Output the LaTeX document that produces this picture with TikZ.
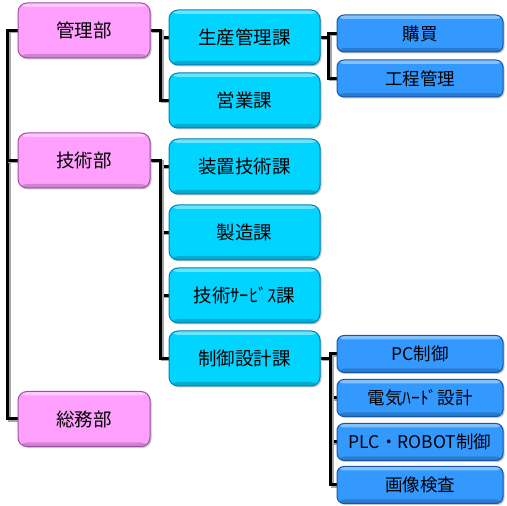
\documentclass[tikz,border=0pt]{standalone}
\usepackage{fontspec}
\setmainfont{Noto Sans CJK JP}
\usepackage{tikz}
\usetikzlibrary{shapes,arrows,backgrounds,shadows,positioning,calc}
\definecolor{bucol}{RGB}{255,160,255}
\definecolor{bulin}{RGB}{160,80,160}
\definecolor{kacol}{RGB}{0,212,255}
\definecolor{kalin}{RGB}{0,130,180}
\definecolor{grcol}{RGB}{51,153,255}
\definecolor{grlin}{RGB}{25,85,165}
\tikzset{
  box/.style={rounded corners=9bp, inner sep=0pt, line width=1bp, font=\fontsize{18.5bp}{20bp}\selectfont,
    drop shadow={shadow xshift=1.5bp, shadow yshift=-1.5bp, opacity=0.45},
    path picture={
      \fill[white, opacity=0.4] (path picture bounding box.north west) rectangle ([yshift=-4bp]path picture bounding box.north east);
      \fill[black, opacity=0.18] (path picture bounding box.south west) rectangle ([yshift=4bp]path picture bounding box.south east);
    }},
  bu/.style={box, fill=bucol, draw=bulin, minimum width=132bp, minimum height=55bp},
  ka/.style={box, fill=kacol, draw=kalin, minimum width=151bp, minimum height=55bp},
  gr/.style={box, rounded corners=7bp, fill=grcol, draw=grlin, minimum width=166bp, minimum height=37bp, font=\fontsize{17.5bp}{19bp}\selectfont},
  tree/.style={line width=3bp, line join=miter,
    preaction={draw=black!35, line width=3bp, transform canvas={shift={(1.5bp,-1.5bp)}}}}
}
\begin{document}
\begin{tikzpicture}[>=latex',line join=bevel,]
\useasboundingbox (0bp,0bp) rectangle (507bp,506bp);
% lines first, boxes on top
\node[bu] (kanri) at (84bp,475.5bp) {管理部};
\node[bu] (gijutsu) at (84bp,345.5bp) {技術部};
\node[bu] (somu) at (84bp,87bp) {総務部};
\node[ka] (seisan) at (244.5bp,468.5bp) {生産管理課};
\node[ka] (eigyo) at (244.5bp,405.5bp) {営業課};
\node[ka] (souchi) at (244.5bp,339.5bp) {装置技術課};
\node[ka] (seizo) at (244.5bp,273.5bp) {製造課};
\node[ka] (service) at (244.5bp,210.5bp) {技術ｻｰﾋﾞｽ課};
\node[ka] (seigyo) at (244.5bp,147.5bp) {制御設計課};
\node[gr] (kobai) at (420bp,472.5bp) {購買};
\node[gr] (koutei) at (420bp,427.5bp) {工程管理};
\node[gr] (pc) at (420bp,152bp) {PC制御};
\node[gr] (denki) at (420bp,108bp) {電気ﾊｰﾄﾞ設計};
\node[gr] (plc) at (420bp,64bp) {PLC・ROBOT制御};
\node[gr] (gazo) at (420bp,21bp) {画像検査};
\begin{scope}[on background layer]
 \draw [tree] (kanri.west) -- ++(-10bp,0) |- (somu.west);
 \draw [tree] (kanri.west) -- ++(-10bp,0) |- (gijutsu.west);
 \foreach \k in {seisan,eigyo}
  \draw [tree] (kanri.east) -- ++(10bp,0) |- (\k.west);
 \foreach \k in {souchi,seizo,service,seigyo}
  \draw [tree] (gijutsu.east) -- ++(10bp,0) |- (\k.west);
 \foreach \k in {kobai,koutei}
  \draw [tree] (seisan.east) -- ++(8bp,0) |- (\k.west);
 \foreach \k in {pc,denki,plc,gazo}
  \draw [tree] (seigyo.east) -- ++(10bp,0) |- (\k.west);
\end{scope}
\end{tikzpicture}
\end{document}
